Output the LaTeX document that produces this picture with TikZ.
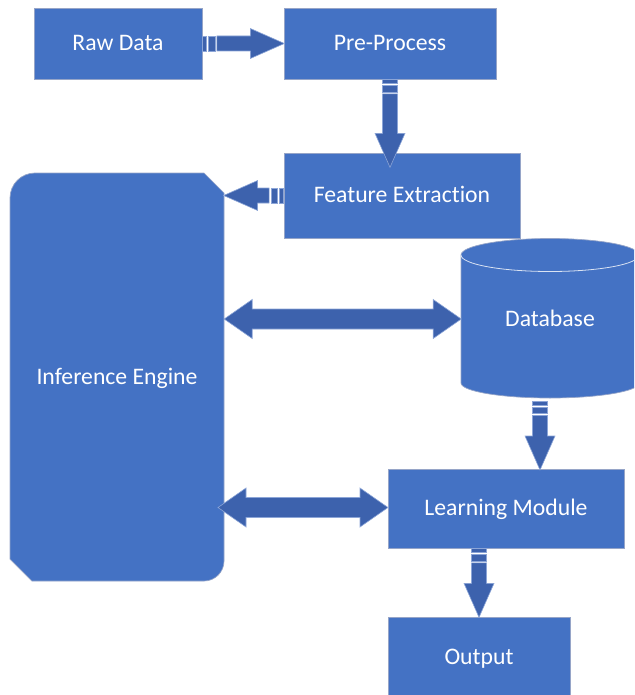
\documentclass[tikz,border=0pt]{standalone}
\usepackage{fontspec}
\setmainfont{Carlito}[Ligatures={NoCommon,NoRare}]
\definecolor{boxblue}{RGB}{68,114,196}
\definecolor{arrowblue}{RGB}{61,98,173}
\definecolor{edgeline}{RGB}{150,165,200}
\definecolor{arrowedge}{RGB}{140,165,215}
\tikzset{
  labeltext/.style={text=white, font=\fontsize{23.7}{28}\selectfont, text height=18pt, text depth=4pt},
  blockbox/.style={rectangle, fill=boxblue, draw=edgeline, line width=0.7pt, inner sep=0pt, labeltext},
  arrowstyle/.style={fill=arrowblue, draw=arrowedge, line width=0.6pt, line join=miter},
  pics/striparrow/.style={code={
    \path[arrowstyle] (0,-7.5) rectangle (4,7.5);
    \path[arrowstyle] (6,-7.5) rectangle (12.5,7.5);
    \path[arrowstyle] (14.5,-7.5) -- (#1-34,-7.5) -- (#1-34,-15) -- (#1,0)
      -- (#1-34,15) -- (#1-34,7.5) -- (14.5,7.5) -- cycle;
  }},
  pics/dblarrow/.style={code={
    \path[arrowstyle] (0,0) -- (28,19.5) -- (28,10) -- (#1-28,10) -- (#1-28,19.5)
      -- (#1,0) -- (#1-28,-19.5) -- (#1-28,-10) -- (28,-10) -- (28,-19.5) -- cycle;
  }}
}
\begin{document}
\begin{tikzpicture}[x=1pt,y=1pt]
\useasboundingbox (0,0) rectangle (634,-695);
\clip (0,0) rectangle (634,-695);
% boxes
\node[blockbox, minimum width=168pt, minimum height=71pt] (raw) at (118,-43.5) {Raw Data};
\node[blockbox, minimum width=212pt, minimum height=71pt] (pre) at (390,-43.5) {Pre-Process};
\node[blockbox, minimum width=236pt, minimum height=85pt] (feat) at (402,-195.5) {Feature Extraction};
\node[blockbox, minimum width=236pt, minimum height=79pt] (learn) at (506,-508.5) {Learning Module};
\node[blockbox, minimum width=182pt, minimum height=80pt] (out) at (479,-657) {Output};
% inference engine shape
\path[fill=boxblue, draw=edgeline, line width=0.7pt]
  (10,-198) arc (180:90:25) -- (204,-173) -- (224,-193) -- (224,-561)
  arc (0:-90:20) -- (32,-581) -- (10,-559) -- cycle;
\node[labeltext, minimum width=214pt, minimum height=408pt, inner sep=0pt] (inf) at (117,-377) {Inference Engine};
% database cylinder
\path[fill=boxblue, draw=edgeline, line width=0.7pt]
  (461,-255) -- (461,-383) arc (180:360:89 and 15) -- (639,-255) arc (0:180:89 and 16.5) -- cycle;
\draw[white!80!boxblue, line width=0.8pt] (461,-255) arc (180:360:89 and 16.5);
\node[labeltext, minimum width=178pt, minimum height=158pt, inner sep=0pt] (db) at (550,-319) {Database};
% arrows
\pic at (raw.east) {striparrow=82};
\pic[rotate=-90] at (pre.south) {striparrow=88};
\pic[rotate=180] at (feat.west) {striparrow=60};
\pic at (inf.east |- db.center) {dblarrow=237};
\pic[rotate=-90] at (540,-401) {striparrow=69};
\pic[rotate=-90] at ([xshift=-27pt]learn.south) {striparrow=69};
\pic at (218,-507.5) {dblarrow=170};
\end{tikzpicture}
\end{document}
